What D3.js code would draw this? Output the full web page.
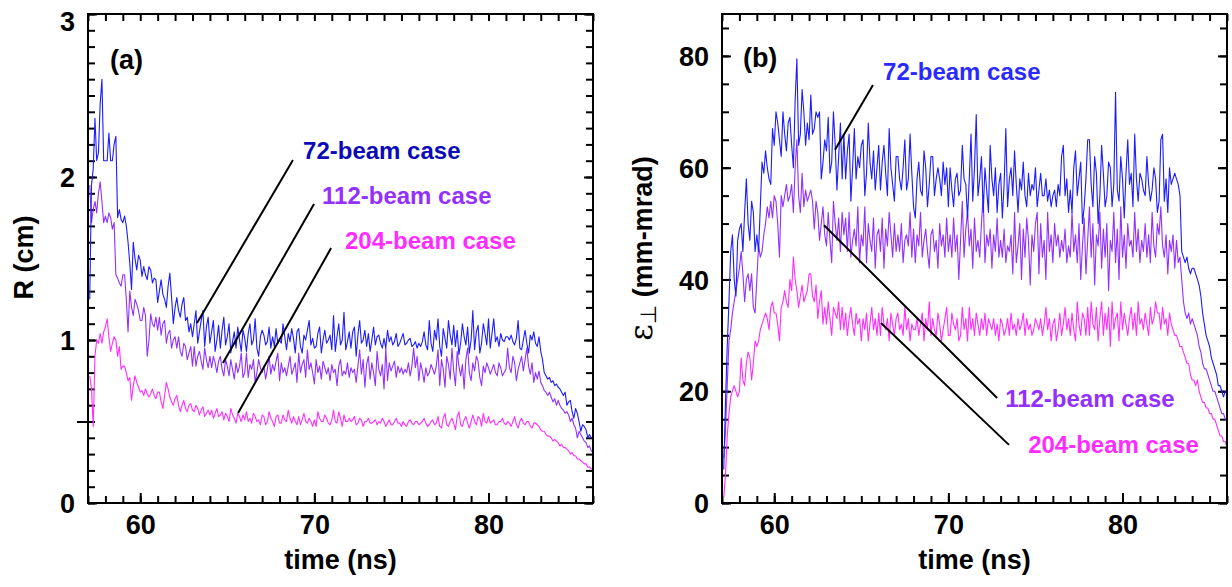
<!DOCTYPE html>
<html><head><meta charset="utf-8">
<script src="https://cdn.jsdelivr.net/npm/d3@7"></script>
<style>
body{margin:0;background:#fff}
svg{display:block;background:#fff}
text{font-family:"Liberation Sans",Arial,Helvetica,sans-serif;font-weight:bold}
</style>
</head><body>
<svg id="c" width="1232" height="587"></svg>
<script>
// ---------------- data ----------------
const times = [
57.1,57.2,57.3,57.4,57.5,57.6,57.7,57.8,57.9,58.0,
58.1,58.2,58.3,58.4,58.5,58.6,58.7,58.8,58.9,59.0,
59.1,59.2,59.3,59.4,59.5,59.6,59.7,59.8,59.9,60.0,
60.1,60.2,60.3,60.4,60.5,60.6,60.7,60.8,60.9,61.0,
61.1,61.2,61.3,61.4,61.5,61.6,61.7,61.8,61.9,62.0,
62.1,62.2,62.3,62.4,62.5,62.6,62.7,62.8,62.9,63.0,
63.1,63.2,63.3,63.4,63.5,63.6,63.7,63.8,63.9,64.0,
64.1,64.2,64.3,64.4,64.5,64.6,64.7,64.8,64.9,65.0,
65.1,65.2,65.3,65.4,65.5,65.6,65.7,65.8,65.9,66.0,
66.1,66.2,66.3,66.4,66.5,66.6,66.7,66.8,66.9,67.0,
67.1,67.2,67.3,67.4,67.5,67.6,67.7,67.8,67.9,68.0,
68.1,68.2,68.3,68.4,68.5,68.6,68.7,68.8,68.9,69.0,
69.1,69.2,69.3,69.4,69.5,69.6,69.7,69.8,69.9,70.0,
70.1,70.2,70.3,70.4,70.5,70.6,70.7,70.8,70.9,71.0,
71.1,71.2,71.3,71.4,71.5,71.6,71.7,71.8,71.9,72.0,
72.1,72.2,72.3,72.4,72.5,72.6,72.7,72.8,72.9,73.0,
73.1,73.2,73.3,73.4,73.5,73.6,73.7,73.8,73.9,74.0,
74.1,74.2,74.3,74.4,74.5,74.6,74.7,74.8,74.9,75.0,
75.1,75.2,75.3,75.4,75.5,75.6,75.7,75.8,75.9,76.0,
76.1,76.2,76.3,76.4,76.5,76.6,76.7,76.8,76.9,77.0,
77.1,77.2,77.3,77.4,77.5,77.6,77.7,77.8,77.9,78.0,
78.1,78.2,78.3,78.4,78.5,78.6,78.7,78.8,78.9,79.0,
79.1,79.2,79.3,79.4,79.5,79.6,79.7,79.8,79.9,80.0,
80.1,80.2,80.3,80.4,80.5,80.6,80.7,80.8,80.9,81.0,
81.1,81.2,81.3,81.4,81.5,81.6,81.7,81.8,81.9,82.0,
82.1,82.2,82.3,82.4,82.5,82.6,82.7,82.8,82.9,83.0,
83.1,83.2,83.3,83.4,83.5,83.6,83.7,83.8,83.9,84.0,
84.1,84.2,84.3,84.4,84.5,84.6,84.7,84.8,84.9,85.0,
85.1,85.2,85.3,85.4,85.5,85.6,85.7,85.8,85.9,86.0];

// panel (a): R (cm)
const r72 = [
1.25,1.95,2.05,2.36,2.1,2.15,2.45,2.6,2.1,2.1,
2.1,2.27,2.1,2.1,2.2,2.25,1.75,1.8,1.74,1.72,
1.76,1.7,1.6,1.47,1.31,1.6,1.5,1.43,1.52,1.49,
1.39,1.45,1.4,1.37,1.45,1.43,1.35,1.38,1.37,1.23,
1.3,1.37,1.28,1.25,1.2,1.33,1.41,1.26,1.1,1.2,
1.26,1.18,1.14,1.22,1.26,1.12,1.14,1.05,1.1,1.02,
1.1,1.18,0.98,1.05,1.12,1.18,0.96,1.08,1.14,0.98,
1.05,1.12,0.93,1.0,1.09,0.95,1.06,1.14,0.97,1.02,
1.1,0.92,0.99,1.05,0.95,1.08,1.0,0.93,1.06,1.01,
0.93,1.04,1.1,0.97,1.0,1.13,0.95,0.9,1.02,1.06,
1.03,0.97,0.99,1.08,0.95,1.02,0.96,1.07,0.98,1.0,
0.98,1.1,1.02,0.94,1.04,0.99,1.07,1.01,0.92,1.05,
1.07,0.96,0.92,1.03,1.0,1.06,1.12,0.97,1.01,0.95,
0.96,1.04,1.08,0.92,1.0,1.06,0.98,1.0,1.03,0.94,
1.15,0.93,1.02,1.1,0.97,1.0,1.17,0.94,0.99,1.05,
0.95,1.05,1.08,0.9,1.03,1.12,0.98,1.0,1.06,0.96,
1.04,0.93,1.0,1.08,0.97,1.02,1.03,0.98,0.95,1.01,
0.95,1.06,0.99,1.02,0.97,0.99,1.04,0.96,0.98,1.01,
1.04,0.97,0.98,1.0,1.01,0.96,0.97,0.99,0.95,0.98,
0.96,0.99,1.05,0.97,0.94,1.12,0.98,0.93,1.06,1.0,
1.13,0.96,0.9,1.07,1.01,0.95,1.12,1.03,0.97,1.09,
0.96,1.06,0.91,0.98,1.1,1.02,0.97,1.08,0.92,1.0,
1.18,0.94,1.05,1.09,0.92,0.98,1.1,1.04,0.97,1.13,
0.95,1.04,1.13,0.99,1.02,0.96,1.04,1.0,0.99,1.02,
1.02,1.0,1.03,0.99,0.97,1.01,1.12,0.95,0.94,1.0,
1.06,0.98,0.92,1.03,1.0,1.05,0.98,0.96,1.02,0.93,
0.88,0.8,0.78,0.76,0.77,0.74,0.75,0.72,0.73,0.71,
0.7,0.68,0.66,0.68,0.6,0.62,0.63,0.56,0.52,0.58,
0.55,0.5,0.44,0.48,0.47,0.45,0.4,0.42,0.4,0.4];
const r112 = [
1.95,1.72,1.8,1.85,1.78,1.9,1.97,1.85,1.72,1.76,
1.72,1.78,1.75,1.68,1.72,1.4,1.38,1.35,1.33,1.4,
1.4,1.25,1.05,1.3,1.2,1.15,1.25,1.22,1.18,1.12,
1.12,1.2,1.15,0.9,1.0,1.16,1.1,1.08,1.14,1.06,
1.14,1.03,1.1,1.12,0.98,1.04,1.06,0.95,1.0,1.02,
0.95,1.02,0.93,0.9,0.98,0.96,0.88,0.92,0.96,0.84,
0.96,0.84,0.9,0.93,0.87,0.82,0.95,0.88,0.83,0.9,
0.83,0.9,0.86,0.8,0.87,0.9,0.82,0.78,0.88,0.84,
0.78,0.88,0.82,0.76,0.86,0.8,0.84,0.92,0.77,0.8,
0.92,0.77,0.85,0.82,0.88,0.74,0.8,0.88,0.83,0.8,
0.84,0.76,0.82,0.9,0.79,0.85,0.81,0.87,0.92,0.75,
0.86,0.8,0.83,0.78,0.84,0.9,0.79,0.82,0.86,0.74,
0.92,0.8,0.85,0.88,0.77,0.94,0.82,0.86,0.8,0.73,
0.88,0.8,0.84,0.76,0.87,0.83,0.79,0.83,0.75,0.85,
0.8,0.82,0.72,0.84,0.88,0.78,0.81,0.79,0.86,0.77,
0.83,0.8,0.82,0.74,0.84,0.94,0.79,0.88,0.71,0.85,
0.9,0.76,0.86,0.8,0.72,0.93,0.82,0.78,0.85,0.7,
0.95,0.75,0.86,0.81,0.84,0.87,0.77,0.84,0.8,0.83,
0.79,0.82,0.8,0.86,0.78,0.84,0.95,0.83,0.9,0.75,
0.86,0.81,0.74,0.83,0.78,0.8,0.85,0.82,0.79,0.84,
0.94,0.72,0.88,0.82,0.71,0.9,0.85,0.76,0.95,0.81,
0.72,0.93,0.84,0.78,0.85,0.7,0.88,0.95,0.8,0.75,
0.86,0.81,0.9,0.87,0.77,0.72,0.84,0.8,0.86,0.83,
0.79,0.82,0.85,0.8,0.78,0.86,0.83,0.78,0.8,0.82,
0.95,0.83,0.8,0.9,0.86,0.75,0.82,0.86,0.9,0.81,
0.88,0.95,0.84,0.79,0.86,0.74,0.8,0.76,0.81,0.74,
0.72,0.69,0.68,0.66,0.68,0.65,0.62,0.64,0.6,0.63,
0.6,0.58,0.57,0.55,0.56,0.54,0.5,0.52,0.48,0.46,
0.4,0.44,0.42,0.4,0.38,0.37,0.34,0.35,0.32,0.31];
const r204 = [
0.78,0.7,0.47,0.9,1.0,0.98,1.04,0.98,1.05,1.08,
1.13,1.02,0.93,0.98,1.02,1.0,0.9,0.96,0.82,0.84,
0.84,0.8,0.75,0.77,0.63,0.72,0.78,0.74,0.71,0.68,
0.69,0.66,0.7,0.67,0.65,0.67,0.7,0.66,0.64,0.68,
0.68,0.62,0.58,0.66,0.74,0.7,0.65,0.62,0.6,0.64,
0.66,0.6,0.56,0.6,0.63,0.58,0.56,0.6,0.61,0.57,
0.56,0.6,0.58,0.54,0.57,0.59,0.53,0.55,0.57,0.54,
0.57,0.52,0.55,0.58,0.53,0.54,0.56,0.51,0.55,0.53,
0.5,0.58,0.54,0.52,0.49,0.55,0.53,0.5,0.54,0.51,
0.56,0.5,0.52,0.49,0.55,0.53,0.5,0.51,0.48,0.54,
0.53,0.48,0.5,0.56,0.52,0.5,0.47,0.53,0.54,0.49,
0.49,0.54,0.51,0.5,0.57,0.52,0.49,0.53,0.5,0.48,
0.53,0.48,0.51,0.55,0.5,0.49,0.52,0.5,0.47,0.51,
0.47,0.56,0.52,0.5,0.5,0.54,0.52,0.49,0.48,0.51,
0.57,0.5,0.49,0.56,0.52,0.47,0.54,0.5,0.5,0.52,
0.5,0.51,0.53,0.48,0.49,0.52,0.51,0.47,0.5,0.5,
0.52,0.49,0.49,0.5,0.51,0.48,0.5,0.49,0.52,0.5,
0.47,0.49,0.51,0.48,0.48,0.5,0.52,0.49,0.49,0.47,
0.5,0.48,0.47,0.5,0.51,0.49,0.48,0.5,0.5,0.48,
0.49,0.5,0.52,0.49,0.47,0.48,0.5,0.51,0.48,0.49,
0.53,0.47,0.46,0.52,0.55,0.48,0.47,0.5,0.52,0.49,
0.45,0.53,0.56,0.48,0.47,0.51,0.53,0.49,0.46,0.5,
0.54,0.5,0.48,0.53,0.52,0.47,0.55,0.5,0.49,0.53,
0.49,0.5,0.51,0.48,0.48,0.5,0.5,0.52,0.49,0.48,
0.5,0.49,0.47,0.5,0.53,0.48,0.46,0.5,0.52,0.49,
0.48,0.5,0.5,0.47,0.46,0.49,0.49,0.48,0.47,0.45,
0.44,0.44,0.42,0.41,0.41,0.4,0.38,0.39,0.38,0.37,
0.35,0.36,0.34,0.34,0.33,0.32,0.3,0.31,0.29,0.29,
0.27,0.27,0.26,0.25,0.24,0.24,0.22,0.22,0.21,0.21];

// panel (b): emittance (mm-mrad)
const e72 = [
6,18,28,36,45,48,40,37,47,49,
50,45,52,58,50,47,54,52,45,48,
45,53,61,59,63,60,58,57,67,64,
70,68,65,62,70,66,63,68,69,64,
60,72,79.5,64,66,74,70,64,68,65,
73,66,67,70,69,70,58,61,65,63,
69,59,61,70,64,56,62,68,58,66,
58,63,66,54,60,67,58,62,60,64,
65,55,59,68,61,58,63,56,60,64,
56,61,64,59,55,67,60,57,54,62,
62,58,56,60,65,56,58,66,59,53,
51,58,61,56,55,63,60,53,57,62,
62,55,58,60,58,55,61,57,60,53,
60,56,53,58,59,55,56,64,58,57,
51,58,66,54,60,69.5,55,58,62,52,
60,56,52,64,58,55,60,52,57,59,
51,57,67,53,58,60,55,63,57,52,
58,56,61,55,53,59,55,57,56,60,
53,56,59,55,55,58,54,56,53,55,
56,53,57,55,62,64,55,58,52,56,
52,60,63,55,58,61,50,53,58,65,
65,57,53,62,59,50,55,64,59,53,
55,61,60,53,57,73.5,56,54,62,58,
51,59,65,57,59,53,66,58,54,59,
58,56,55,62,57,54,56,60,58,52,
54,65,66,54,58,52,60,57,58,59,
58,57,55,45,44,43,44,42,41,42,
42,41,40,39,37,34,32,30,29,28,
26,25,24,23,21,21,20,19,20,20];
const e112 = [
8,13,21,29,31,34,36,38,40,42,
45,41,36,40,41,38,41,35,34,40,
46,44,45,48,50,53,51,54,51,55,
54,50,44,55,53,55,57,54,55,57,
52,60,65,55,52,59,53,56,54,55,
56,54,49,54,52,47,50,53,48,46,
52,47,43,54,50,47,51,45,52,48,
51,45,52,44,47,49,46,53,43,48,
46,53,43,50,47,45,51,42,48,49,
45,51,42,49,46,52,48,44,50,45,
48,45,50,43,47,48,46,52,44,49,
43,48,46,52,44,47,49,45,42,48,
49,45,47,42,50,46,48,44,51,45,
48,44,51,45,48,40,47,54,44,49,
52,46,49,42,51,45,47,44,50,55,
43,48,46,49,42,48,45,51,44,47,
44,49,43,46,45,48,41,52,43,46,
50,40,49,44,51,47,39,48,45,50,
52,41,50,44,47,40,52,45,48,43,
50,46,48,44,47,45,49,43,46,44,
52,45,48,43,50,40,46,51,41,47,
53,44,50,39,48,46,52,42,49,44,
50,38,47,45,52,43,49,40,53,44,
48,42,50,46,47,44,52,45,49,43,
47,45,50,44,48,43,52,46,44,50,
48,53,46,44,48,41,47,45,48,42,
47,43,44,40,36,34,33,34,32,33,
32,31,30,28,27,25,24,24,23,22,
21,20,20,19,18,17,16,16,15,15];
const e204 = [
1,5,12,16,19,20,21,20,19,20,
26,22,21,25,27,26,22,25,29,28,
29,31,32,33,34,33,31,35,36,34,
34,32,29,35,36,38,36,35,40,38,
44,40,38,35,37,39,36,37,38,41,
41,37,36,39,33,36,38,32,35,32,
36,33,30,35,34,33,36,31,35,31,
34,30,33,35,32,30,34,32,33,29,
33,31,34,29,32,35,31,33,30,34,
30,35,32,31,33,29,34,32,30,33,
34,31,32,30,35,31,33,29,32,31,
31,33,30,32,34,29,33,31,36,30,
33,31,30,34,32,29,31,33,35,30,
30,34,32,31,33,29,30,35,31,33,
29,35,31,33,30,34,32,30,33,31,
34,30,33,32,31,33,30,32,29,33,
32,30,31,33,30,34,31,32,30,33,
31,32,34,30,33,31,32,30,31,33,
32,31,33,30,32,35,31,33,29,32,
33,29,31,34,30,32,35,31,33,30,
34,31,29,36,32,30,34,33,30,35,
30,36,32,31,35,29,33,36,30,34,
31,35,28,36,31,33,34,29,36,31,
34,32,30,33,35,31,34,30,36,32,
33,31,34,32,30,35,32,33,36,34,
34,31,35,32,33,30,34,32,31,30,
30,29,28,28,27,26,25,25,23,22,
22,21,22,20,19,18,18,17,17,16,
16,15,15,14,13,12,12,11,11,10];

const seriesNames = ["72-beam case", "112-beam case", "204-beam case"];
const xDomain = [57, 86];
const xLabelTicks = [60, 70, 80];
const rDomain = [0, 3];
const rLabelTicks = [0, 1, 2, 3];
const eDomain = [0, 87.5];
const eLabelTicks = [0, 20, 40, 60, 80];

// annotation anchors (data units): [label t, label y, line start t, y, line end t, y]
const annA = [
  [69.35, 2.11, 68.77, 2.104, 63.26, 1.104],
  [70.44, 1.834, 69.98, 1.834, 64.75, 0.859],
  [71.76, 1.558, 70.96, 1.564, 65.62, 0.552]
];
const annB = [
  [66.25, 75.7, 65.67, 74.8, 63.49, 63.2],
  [73.26, 17.2, 62.86, 49.7, 72.8, 18.8],
  [74.58, 8.95, 66.13, 32.2, 73.48, 10.4]
];

// ---------------- drawing ----------------
const svg = d3.select("#c");
const lineColors = ["#1c1cff", "#9130ff", "#ff2eff"];
const FONT = '"Liberation Sans", Arial, Helvetica, sans-serif';

function drawPanel(cfg) {
  const {left, top, width, height, yDomain, yMinorStep, yLabels, series,
         labelColors, ann, panelLabel, panelPos, extraOutTicks, yTitle, id} = cfg;
  const x = d3.scaleLinear().domain(xDomain).range([left, left + width]);
  const y = d3.scaleLinear().domain(yDomain).range([top + height, top]);
  const g = svg.append("g");

  g.append("clipPath").attr("id", "clip" + id).append("rect")
    .attr("x", left).attr("y", top).attr("width", width).attr("height", height);

  const xMinor = d3.range(xDomain[0], xDomain[1] + 0.001, 1);
  const yMinor = d3.range(yDomain[0], yDomain[1] + 1e-6, yMinorStep);

  const styleAxis = sel => {
    sel.select(".domain").remove();
    sel.selectAll("line").attr("stroke", "#000").attr("stroke-width", 2);
    sel.selectAll("text").attr("fill", "#000").attr("font-family", FONT)
      .attr("font-weight", "bold").attr("font-size", 27);
  };

  // bottom
  g.append("g").attr("transform", `translate(0,${top + height})`)
    .call(d3.axisBottom(x).tickValues(xMinor).tickSize(-7).tickFormat(""))
    .call(styleAxis);
  g.append("g").attr("transform", `translate(0,${top + height})`)
    .call(d3.axisBottom(x).tickValues(xLabelTicks).tickSize(-10).tickPadding(12).tickFormat(d3.format("d")))
    .call(styleAxis);
  // top
  g.append("g").attr("transform", `translate(0,${top})`)
    .call(d3.axisTop(x).tickValues(xMinor).tickSize(-7).tickFormat(""))
    .call(styleAxis);
  // left
  g.append("g").attr("transform", `translate(${left},0)`)
    .call(d3.axisLeft(y).tickValues(yMinor).tickSize(-7).tickFormat(""))
    .call(styleAxis);
  const la = g.append("g").attr("transform", `translate(${left},0)`)
    .call(d3.axisLeft(y).tickValues(yLabels).tickSize(-9).tickPadding(13).tickFormat(d3.format("d")))
    .call(styleAxis);
  la.selectAll("text").attr("dy", "0.36em")
    .attr("y", d => Math.max(0, top + 7 - y(d)));
  // right
  g.append("g").attr("transform", `translate(${left + width},0)`)
    .call(d3.axisRight(y).tickValues(yMinor).tickSize(-7).tickFormat(""))
    .call(styleAxis);
  g.append("g").attr("transform", `translate(${left + width},0)`)
    .call(d3.axisRight(y).tickValues(yLabels).tickSize(-9).tickFormat(""))
    .call(styleAxis);
  if (extraOutTicks) {
    g.append("g").attr("transform", `translate(${left},0)`)
      .call(d3.axisLeft(y).tickValues(extraOutTicks).tickSize(11).tickFormat(""))
      .call(styleAxis);
  }

  // data lines
  const line = d3.line().x((d, i) => x(times[i])).y(d => y(d));
  const order = [2, 1, 0];
  const lg = g.append("g").attr("clip-path", `url(#clip${id})`);
  order.forEach(k => {
    lg.append("path").datum(series[k]).attr("d", line)
      .attr("fill", "none").attr("stroke", lineColors[k])
      .attr("stroke-width", 1.1).attr("stroke-linejoin", "round");
  });

  // frame
  g.append("rect").attr("x", left).attr("y", top).attr("width", width).attr("height", height)
    .attr("fill", "none").attr("stroke", "#000").attr("stroke-width", 2);

  // annotations
  ann.forEach((a, k) => {
    g.append("line").attr("x1", x(a[2])).attr("y1", y(a[3]))
      .attr("x2", x(a[4])).attr("y2", y(a[5]))
      .attr("stroke", "#000").attr("stroke-width", 2);
    g.append("text").attr("x", x(a[0])).attr("y", y(a[1]))
      .attr("font-size", 24).attr("fill", labelColors[k]).text(seriesNames[k]);
  });

  // panel label
  g.append("text").attr("x", x(panelPos[0])).attr("y", y(panelPos[1]))
    .attr("font-size", 27).attr("fill", "#000").text(panelLabel);

  // x title
  g.append("text").attr("x", left + width / 2).attr("y", 569)
    .attr("text-anchor", "middle").attr("font-size", 27).attr("fill", "#000")
    .text("time (ns)");

  yTitle(g, top, height);
}

drawPanel({
  id: "a", left: 88, top: 14, width: 505, height: 489,
  yDomain: rDomain, yMinorStep: 0.1, yLabels: rLabelTicks,
  series: [r72, r112, r204],
  labelColors: ["#0a0ab8", "#9430ff", "#ff2bff"],
  ann: annA, panelLabel: "(a)", panelPos: [58.26, 2.66],
  extraOutTicks: [0.5],
  yTitle: (g, top, height) => {
    g.append("text").attr("transform", `translate(33,${top + height / 2 - 1}) rotate(-90)`)
      .attr("text-anchor", "middle").attr("font-size", 27).attr("fill", "#000")
      .text("R (cm)");
  }
});

drawPanel({
  id: "b", left: 722, top: 14, width: 505, height: 489,
  yDomain: eDomain, yMinorStep: 5, yLabels: eLabelTicks,
  series: [e72, e112, e204],
  labelColors: ["#2a2aff", "#9430ff", "#ff2bff"],
  ann: annB, panelLabel: "(b)", panelPos: [58.2, 78],
  extraOutTicks: null,
  yTitle: (g, top, height) => {
    const t = g.append("text").attr("transform", `translate(652,${top + height / 2 - 10}) rotate(-90)`)
      .attr("text-anchor", "middle").attr("fill", "#000");
    t.append("tspan").attr("font-size", 32).attr("font-weight", "normal")
      .attr("font-family", '"DejaVu Serif", "Liberation Serif", serif').text("ε");
    t.append("tspan").attr("font-size", 22).attr("font-weight", "normal")
      .attr("font-family", '"DejaVu Sans", sans-serif').attr("dy", 4).text("⊥");
    t.append("tspan").attr("font-size", 27).attr("dy", -4).text(" (mm-mrad)");
  }
});
</script>
</body></html>
